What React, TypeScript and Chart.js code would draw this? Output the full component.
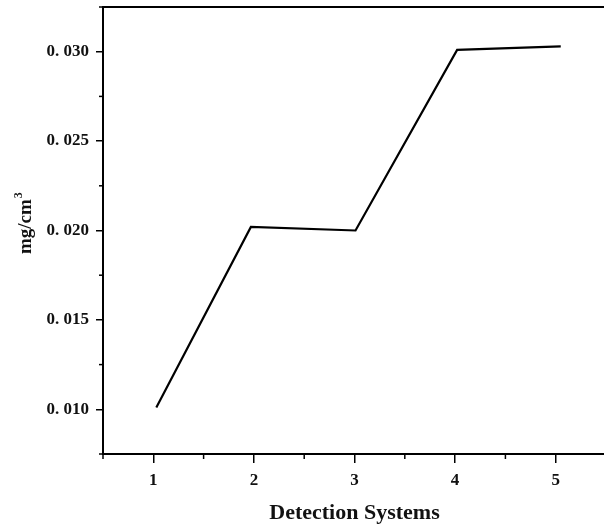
import React, { useEffect, useRef } from "react";
import { Chart, registerables } from "chart.js";

Chart.register(...registerables);

// ---- data ----
const SYSTEMS = [1.03, 1.97, 3.01, 4.02, 5.05];
const CONCENTRATION = [0.0101, 0.0202, 0.02, 0.0301, 0.0303];

const X_MAJOR = [1, 2, 3, 4, 5];
const X_MINOR = [0.5, 1.5, 2.5, 3.5, 4.5, 5.5];
const Y_MAJOR = [0.01, 0.015, 0.02, 0.025, 0.03];
const Y_MINOR = [0.0075, 0.0125, 0.0175, 0.0225, 0.0275, 0.0325];

const X_TITLE = "Detection Systems";
const Y_TITLE = "mg/cm";
const Y_TITLE_SUP = "3";

const FONT = "'Liberation Serif', 'Times New Roman', serif";

const W = 604;
const H = 527;

const decorPlugin = {
  id: "decor",
  afterDraw(chart: any) {
    const { ctx, chartArea, scales } = chart;
    const xs = scales.x;
    const ys = scales.y;
    ctx.save();
    ctx.strokeStyle = "#000";
    ctx.fillStyle = "#111";
    // top frame line
    ctx.lineWidth = 2;
    ctx.beginPath();
    ctx.moveTo(chartArea.left - 1, chartArea.top);
    ctx.lineTo(W + 10, chartArea.top);
    ctx.stroke();
    // minor ticks
    ctx.lineWidth = 1.5;
    X_MINOR.forEach((v) => {
      const px = xs.getPixelForValue(v);
      if (px < chartArea.left - 1 || px > W) return;
      ctx.beginPath();
      ctx.moveTo(px, chartArea.bottom);
      ctx.lineTo(px, chartArea.bottom + 5);
      ctx.stroke();
    });
    Y_MINOR.forEach((v) => {
      const py = ys.getPixelForValue(v);
      ctx.beginPath();
      ctx.moveTo(chartArea.left, py);
      ctx.lineTo(chartArea.left - 4, py);
      ctx.stroke();
    });
    // x title
    ctx.font = `bold 22px ${FONT}`;
    ctx.textAlign = "center";
    ctx.textBaseline = "alphabetic";
    ctx.fillText(X_TITLE, (chartArea.left + chartArea.right) / 2 + 1, 519);
    // y title (rotated)
    ctx.translate(31, 254);
    ctx.rotate(-Math.PI / 2);
    ctx.textAlign = "left";
    ctx.font = `bold 19px ${FONT}`;
    ctx.fillText(Y_TITLE, 0, 0);
    const w = ctx.measureText(Y_TITLE).width;
    ctx.font = `bold 12px ${FONT}`;
    ctx.fillText(Y_TITLE_SUP, w + 1, -9);
    ctx.restore();
  },
};

export default function App() {
  const ref = useRef<HTMLCanvasElement | null>(null);

  useEffect(() => {
    if (!ref.current) return;
    const tickFont = { family: FONT, size: 17, weight: "bold" as const };
    const chart = new Chart(ref.current, {
      type: "scatter",
      data: {
        datasets: [
          {
            data: SYSTEMS.map((x, i) => ({ x, y: CONCENTRATION[i] })),
            showLine: true,
            borderColor: "#000",
            backgroundColor: "#000",
            borderWidth: 2.2,
            pointRadius: 0,
            tension: 0,
            fill: false,
          },
        ],
      },
      options: {
        responsive: false,
        animation: false,
        events: [],
        layout: { padding: { top: 7, left: 0, right: 0, bottom: 0 } },
        plugins: { legend: { display: false }, tooltip: { enabled: false } },
        scales: {
          x: {
            type: "linear",
            min: 0.5,
            max: 5.48,
            afterBuildTicks: (s: any) => {
              s.ticks = X_MAJOR.map((v) => ({ value: v }));
            },
            afterFit: (s: any) => {
              s.height = 73;
              s.paddingLeft = 0;
              s.paddingRight = 0;
            },
            grid: {
              display: true,
              drawOnChartArea: false,
              drawTicks: true,
              tickLength: 9,
              lineWidth: 1.5,
              color: "#000",
            },
            border: { display: true, color: "#000", width: 2 },
            ticks: {
              font: tickFont,
              color: "#111",
              padding: 7,
              autoSkip: false,
              maxRotation: 0,
              callback: (v: any) => String(v),
            },
          },
          y: {
            type: "linear",
            min: 0.0075,
            max: 0.0325,
            afterBuildTicks: (s: any) => {
              s.ticks = Y_MAJOR.map((v) => ({ value: v }));
            },
            afterFit: (s: any) => {
              s.width = 103;
              s.paddingTop = 0;
              s.paddingBottom = 0;
            },
            grid: {
              display: true,
              drawOnChartArea: false,
              drawTicks: true,
              tickLength: 7,
              lineWidth: 1.5,
              color: "#000",
            },
            border: { display: true, color: "#000", width: 2 },
            ticks: {
              font: tickFont,
              color: "#111",
              padding: 7,
              autoSkip: false,
              callback: (v: any) => Number(v).toFixed(3).replace(".", ". "),
            },
          },
        },
      },
      plugins: [decorPlugin],
    });
    return () => chart.destroy();
  }, []);

  return (
    <div
      style={{
        position: "absolute",
        left: 0,
        top: 0,
        width: W,
        height: H,
        background: "#fff",
        overflow: "hidden",
      }}
    >
      <canvas ref={ref} width={W} height={H} style={{ display: "block" }} />
    </div>
  );
}
